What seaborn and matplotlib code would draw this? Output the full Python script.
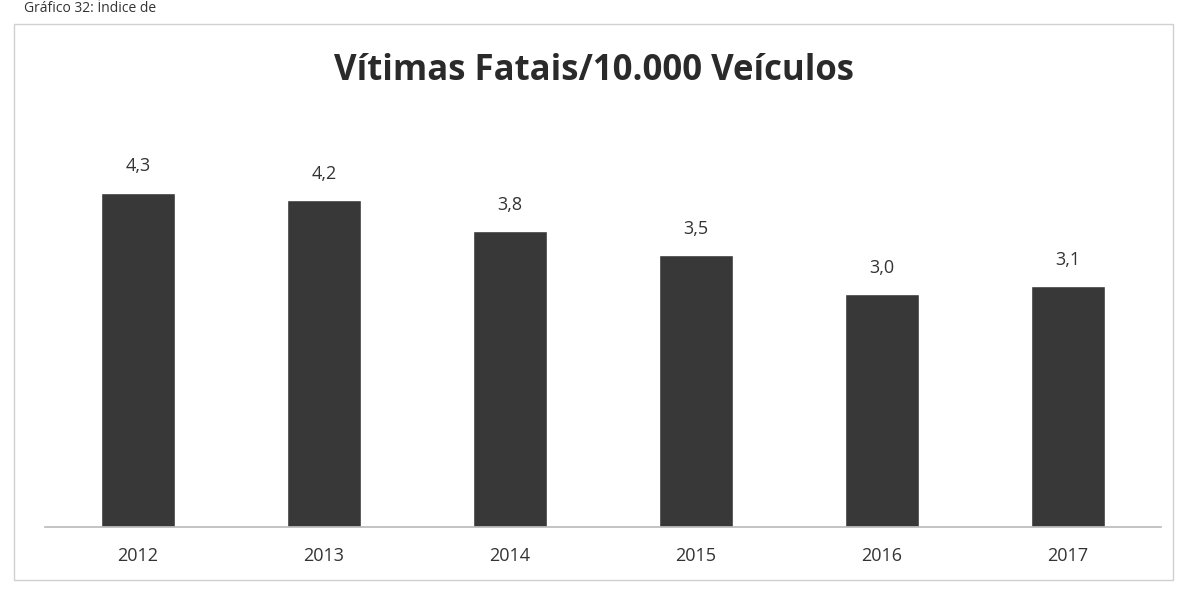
import matplotlib
matplotlib.use("Agg")
import matplotlib.pyplot as plt
import seaborn as sns
import pandas as pd
from matplotlib.patches import Rectangle

anos = ["2012", "2013", "2014", "2015", "2016", "2017"]
vitimas = [4.3, 4.2, 3.8, 3.5, 3.0, 3.1]
rotulos = ["4,3", "4,2", "3,8", "3,5", "3,0", "3,1"]

sns.set_theme(style="white")
plt.rcParams["font.family"] = ["Open Sans", "DejaVu Sans"]

df = pd.DataFrame({"ano": anos, "valor": vitimas})

fig = plt.figure(figsize=(11.88, 5.95), dpi=100)
ax = fig.add_axes([0.038, 0.114, 0.939, 0.654])

sns.barplot(data=df, x="ano", y="valor", color="#383838", width=0.4,
            saturation=1, ax=ax)

for i, (v, t) in enumerate(zip(vitimas, rotulos)):
    ax.text(i, v + 0.22, t, ha="center", va="bottom", fontsize=13, color="#333333")

ax.set_ylim(0, 5)
ax.set_xlim(-0.5, 5.5)
ax.set_yticks([])
ax.set_xlabel("")
ax.set_ylabel("")
for s in ["top", "right", "left"]:
    ax.spines[s].set_visible(False)
ax.spines["bottom"].set_color("#bbbbbb")
ax.tick_params(axis="x", length=0, pad=14, labelsize=13, labelcolor="#333333")

fig.text(0.5, 0.88, "Vítimas Fatais/10.000 Veículos", ha="center", va="center",
         fontsize=25, fontweight="bold", color="#2a2a2a")
fig.text(0.02, 0.998, "Gráfico 32: Índice de", ha="left", va="top",
         fontsize=10, color="#333333")

fig.patches.append(Rectangle((0.012, 0.025), 0.975, 0.935, transform=fig.transFigure,
                             fill=False, edgecolor="#d0d0d0", linewidth=1))

fig.savefig("out.png", dpi=100)
